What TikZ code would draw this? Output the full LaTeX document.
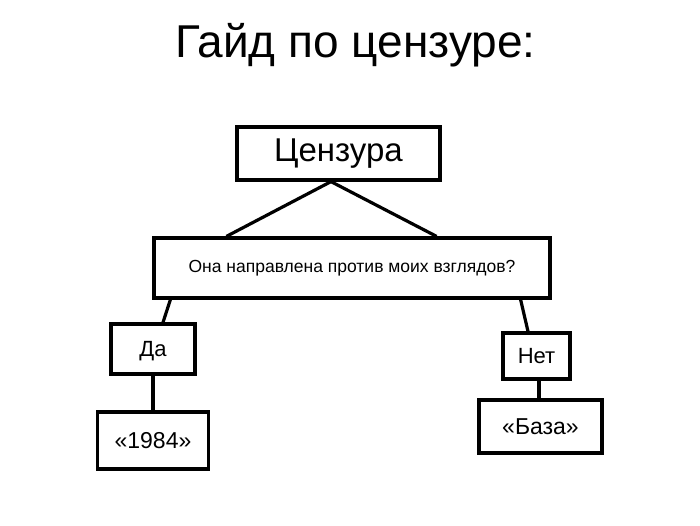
\documentclass[tikz,border=0pt]{standalone}
\usepackage{fontspec}
\setmainfont{Liberation Sans}
\begin{document}
\begin{tikzpicture}[x=1pt,y=-1pt,
  box/.style={draw=black,line width=3.2pt,rectangle,inner sep=0pt,fill=white},
  link/.style={draw=black,line width=3.2pt}]
\useasboundingbox (0,0) rectangle (700,525);
\node[anchor=base] (title) at (355.5,57) {\fontsize{46}{52}\selectfont Гайд по цензуре:};
\node[box,minimum width=203pt,minimum height=53pt] (cens) at (338.5,153.5) {\fontsize{33}{38}\selectfont Цензура};
\node[box,minimum width=396pt,minimum height=60pt] (q) at (352,268) {\fontsize{17.5}{20}\selectfont Она направлена против моих взглядов?};
\node[box,minimum width=84pt,minimum height=50pt,text depth=0pt] (da) at (153,349) {\fontsize{22}{26}\selectfont Да};
\node[box,minimum width=111pt,minimum height=57pt] (y1984) at (153,440.5) {\fontsize{23}{27}\selectfont «1984»};
\node[box,minimum width=67pt,minimum height=46pt] (net) at (536.5,356) {\fontsize{22}{26}\selectfont Нет};
\node[box,minimum width=123pt,minimum height=53pt] (baza) at (540.5,426.5) {\fontsize{23}{27}\selectfont «База»};
\draw[link,line join=miter] ([xshift=74pt]q.north west) -- ([xshift=-7.5pt]cens.south) -- ([xshift=-115pt]q.north east);
\draw[link] ([xshift=18pt]q.south west) -- ([xshift=10pt]da.north);
\draw[link] ([xshift=-31pt]q.south east) -- ([xshift=-8.5pt]net.north);
\draw[link] (da.south) -- (y1984.north);
\draw[link] ([xshift=2.5pt]net.south) -- ([xshift=-1.5pt]baza.north);
\end{tikzpicture}
\end{document}
